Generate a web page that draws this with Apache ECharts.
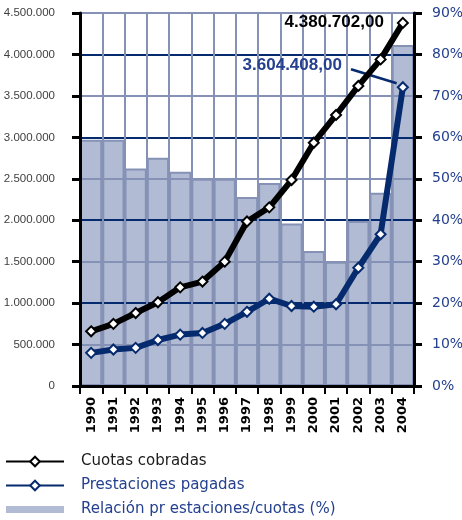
<!DOCTYPE html>
<html>
<head>
<meta charset="utf-8">
<script src="https://cdn.jsdelivr.net/npm/echarts@6/dist/echarts.min.js"></script>
<style>
  html, body { margin: 0; padding: 0; background: #fff; }
  #chart { width: 462px; height: 520px; }
</style>
</head>
<body>
<div id="chart"></div>
<script>
// years on the category axis
const years = ['1990', '1991', '1992', '1993', '1994', '1995', '1996', '1997', '1998', '1999', '2000', '2001', '2002', '2003', '2004']
// cuotas cobradas (left axis)
const cuotasCobradas = [660000, 750000, 880000, 1010000, 1190000, 1260000, 1500000, 1985000, 2155000, 2485000, 2935000, 3270000, 3620000, 3940000, 4380702]
// prestaciones pagadas (left axis)
const prestacionesPagadas = [400000, 440000, 460000, 555000, 620000, 640000, 750000, 895000, 1053000, 965000, 957000, 986000, 1427000, 1830000, 3604408]
// relacion prestaciones / cuotas in % (right axis)
const relacionPct = [59.4, 59.4, 52.5, 55.1, 51.7, 50, 50, 45.6, 49, 39.2, 32.6, 30, 39.8, 46.6, 82.3]
// callout arrow for the 2004 prestaciones value: [category position, value]
const arrowFrom = [11.67, 3821000]
const arrowTo = [13.72, 3652000]

const seriesNames = ['Cuotas cobradas', 'Prestaciones pagadas', 'Relación pr estaciones/cuotas (%)']

const NAVY = '#062a6e'
const NAVY_TEXT = '#24408f'
const SLATE = '#8592b5'
const BAR_FILL = '#b1bbd3'

// 4380702 -> "4.380.702" (or with decimals "4.380.702,00")
const fmtEs = (v, dec) => {
  const parts = Number(v).toFixed(dec || 0).split('.')
  const int = parts[0].replace(/\B(?=(\d{3})+(?!\d))/g, '.')
  return parts[1] ? int + ',' + parts[1] : int
}

const last = years.length - 1

const chart = echarts.init(document.getElementById('chart'))
chart.setOption({
  animation: false,
  backgroundColor: '#fff',
  grid: { left: 80, right: 48, top: 13, bottom: 134, containLabel: false, outerBoundsMode: 'none' },
  legend: {
    orient: 'vertical',
    left: 5,
    top: 454,
    height: 100,
    padding: 0,
    itemWidth: 58,
    itemHeight: 12,
    itemGap: 9,
    textStyle: { fontFamily: 'DejaVu Sans', fontSize: 15, padding: [0, 0, 0, 12] },
    data: [
      { name: seriesNames[0], textStyle: { color: '#1a1a1a' } },
      { name: seriesNames[1], textStyle: { color: NAVY_TEXT } },
      {
        name: seriesNames[2],
        icon: 'path://M0,0H58V7H0Z',
        itemStyle: { borderWidth: 0 },
        textStyle: { color: NAVY_TEXT },
      },
    ],
  },
  xAxis: [
    {
      type: 'category',
      data: years,
      z: 3,
      axisLine: { lineStyle: { color: '#000', width: 3 } },
      axisTick: { show: true, length: 8, lineStyle: { color: '#000', width: 2 } },
      axisLabel: {
        rotate: 90,
        margin: 11,
        color: '#000',
        fontFamily: 'DejaVu Sans',
        fontWeight: 'bold',
        fontSize: 13,
      },
      splitLine: { show: true, lineStyle: { color: SLATE, width: 2 } },
    },
    {
      // hidden helper axis so the callout arrow can sit between categories
      type: 'value',
      min: -0.5,
      max: years.length - 0.5,
      show: false,
    },
  ],
  yAxis: [
    {
      type: 'value',
      min: 0,
      max: 4500000,
      interval: 500000,
      z: 3,
      axisLine: { show: true, onZero: false, lineStyle: { color: '#000', width: 3 } },
      axisTick: { show: true, length: 8, lineStyle: { color: '#000', width: 3 } },
      axisLabel: {
        margin: 25,
        color: '#404040',
        fontFamily: 'Liberation Sans',
        fontSize: 11.5,
        formatter: (v) => fmtEs(v),
      },
      // darker line every million, lighter in between
      splitLine: { show: true, lineStyle: { color: [NAVY, SLATE], width: 2 } },
    },
    {
      type: 'value',
      min: 0,
      max: 90,
      interval: 10,
      z: 3,
      axisLine: { show: true, onZero: false, lineStyle: { color: '#000', width: 3 } },
      axisTick: { show: true, length: 8, lineStyle: { color: '#000', width: 3 } },
      axisLabel: {
        margin: 18,
        color: NAVY_TEXT,
        fontFamily: 'DejaVu Sans',
        fontSize: 14,
        formatter: '{value}%',
      },
      splitLine: { show: false },
    },
  ],
  series: [
    {
      name: seriesNames[2],
      type: 'bar',
      yAxisIndex: 1,
      z: 1,
      barCategoryGap: '0%',
      itemStyle: { color: BAR_FILL, borderColor: SLATE, borderWidth: 2 },
      data: relacionPct,
    },
    {
      name: seriesNames[1],
      type: 'line',
      z: 5,
      symbol: 'emptyDiamond',
      symbolSize: 10,
      lineStyle: { color: NAVY, width: 6 },
      itemStyle: { color: NAVY, borderColor: NAVY, borderWidth: 3 },
      data: prestacionesPagadas.map((v, i) => i === last
        ? {
            value: v,
            label: {
              show: true,
              position: 'left',
              distance: 0,
              offset: [-55, -22],
              color: NAVY_TEXT,
              fontFamily: 'Liberation Sans',
              fontWeight: 'bold',
              fontSize: 17,
              formatter: (p) => fmtEs(p.value, 2),
            },
          }
        : v),
    },
    {
      name: seriesNames[0],
      type: 'line',
      z: 6,
      symbol: 'emptyDiamond',
      symbolSize: 10,
      lineStyle: { color: '#000', width: 6 },
      itemStyle: { color: '#000', borderColor: '#000', borderWidth: 3 },
      data: cuotasCobradas.map((v, i) => i === last
        ? {
            value: v,
            label: {
              show: true,
              position: 'left',
              distance: 0,
              offset: [-13, -1],
              color: '#000',
              fontFamily: 'Liberation Sans',
              fontWeight: 'bold',
              fontSize: 17,
              formatter: (p) => fmtEs(p.value, 2),
            },
          }
        : v),
    },
    {
      // callout arrow only
      type: 'line',
      xAxisIndex: 1,
      z: 6,
      data: [],
      markLine: {
        silent: true,
        symbol: ['none', 'arrow'],
        symbolSize: [0, 13],
        lineStyle: { color: NAVY, width: 2.5, type: 'solid' },
        label: { show: false },
        data: [[{ coord: arrowFrom }, { coord: arrowTo }]],
      },
    },
  ],
})
</script>
</body>
</html>
